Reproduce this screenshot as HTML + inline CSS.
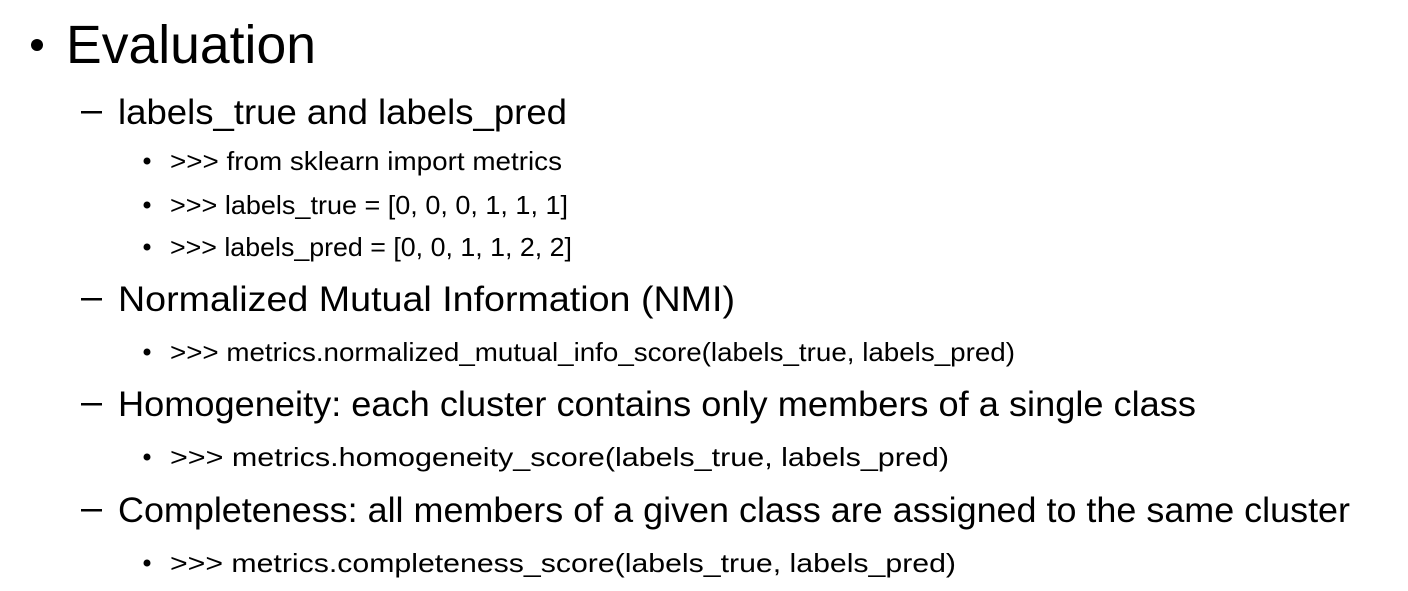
<!DOCTYPE html>
<html><head><meta charset="utf-8"><style>
html,body{margin:0;padding:0;background:#fff;}
svg{display:block;}
text{font-family:"Liberation Sans",sans-serif;fill:#000;}
</style></head><body>
<svg width="1408" height="591" viewBox="0 0 1408 591">
<g>
<circle cx="37" cy="45" r="6"/>
<text x="66" y="63" font-size="54" textLength="250" lengthAdjust="spacingAndGlyphs">Evaluation</text>
</g>
<g font-size="35">
<rect x="81" y="111" width="21" height="2.5"/>
<text x="118" y="124" textLength="449" lengthAdjust="spacingAndGlyphs">labels_true and labels_pred</text>
<rect x="81" y="298" width="21" height="2.5"/>
<text x="118" y="311" textLength="617" lengthAdjust="spacingAndGlyphs">Normalized Mutual Information (NMI)</text>
<rect x="81" y="403" width="21" height="2.5"/>
<text x="118" y="416" textLength="1078" lengthAdjust="spacingAndGlyphs">Homogeneity: each cluster contains only members of a single class</text>
<rect x="81" y="509" width="21" height="2.5"/>
<text x="118" y="522" textLength="1232" lengthAdjust="spacingAndGlyphs">Completeness: all members of a given class are assigned to the same cluster</text>
</g>
<g font-size="26">
<circle cx="147" cy="161" r="3.5"/>
<text x="170" y="170" textLength="392" lengthAdjust="spacingAndGlyphs">&gt;&gt;&gt; from sklearn import metrics</text>
<circle cx="147" cy="205" r="3.5"/>
<text x="170" y="214" textLength="398" lengthAdjust="spacingAndGlyphs">&gt;&gt;&gt; labels_true = [0, 0, 0, 1, 1, 1]</text>
<circle cx="147" cy="247" r="3.5"/>
<text x="170" y="256" textLength="402" lengthAdjust="spacingAndGlyphs">&gt;&gt;&gt; labels_pred = [0, 0, 1, 1, 2, 2]</text>
<circle cx="147" cy="352" r="3.5"/>
<text x="170" y="361" textLength="845" lengthAdjust="spacingAndGlyphs">&gt;&gt;&gt; metrics.normalized_mutual_info_score(labels_true, labels_pred)</text>
<circle cx="147" cy="457" r="3.5"/>
<text x="170" y="466" textLength="779" lengthAdjust="spacingAndGlyphs">&gt;&gt;&gt; metrics.homogeneity_score(labels_true, labels_pred)</text>
<circle cx="147" cy="563" r="3.5"/>
<text x="170" y="572" textLength="786" lengthAdjust="spacingAndGlyphs">&gt;&gt;&gt; metrics.completeness_score(labels_true, labels_pred)</text>
</g>
</svg>
</body></html>
